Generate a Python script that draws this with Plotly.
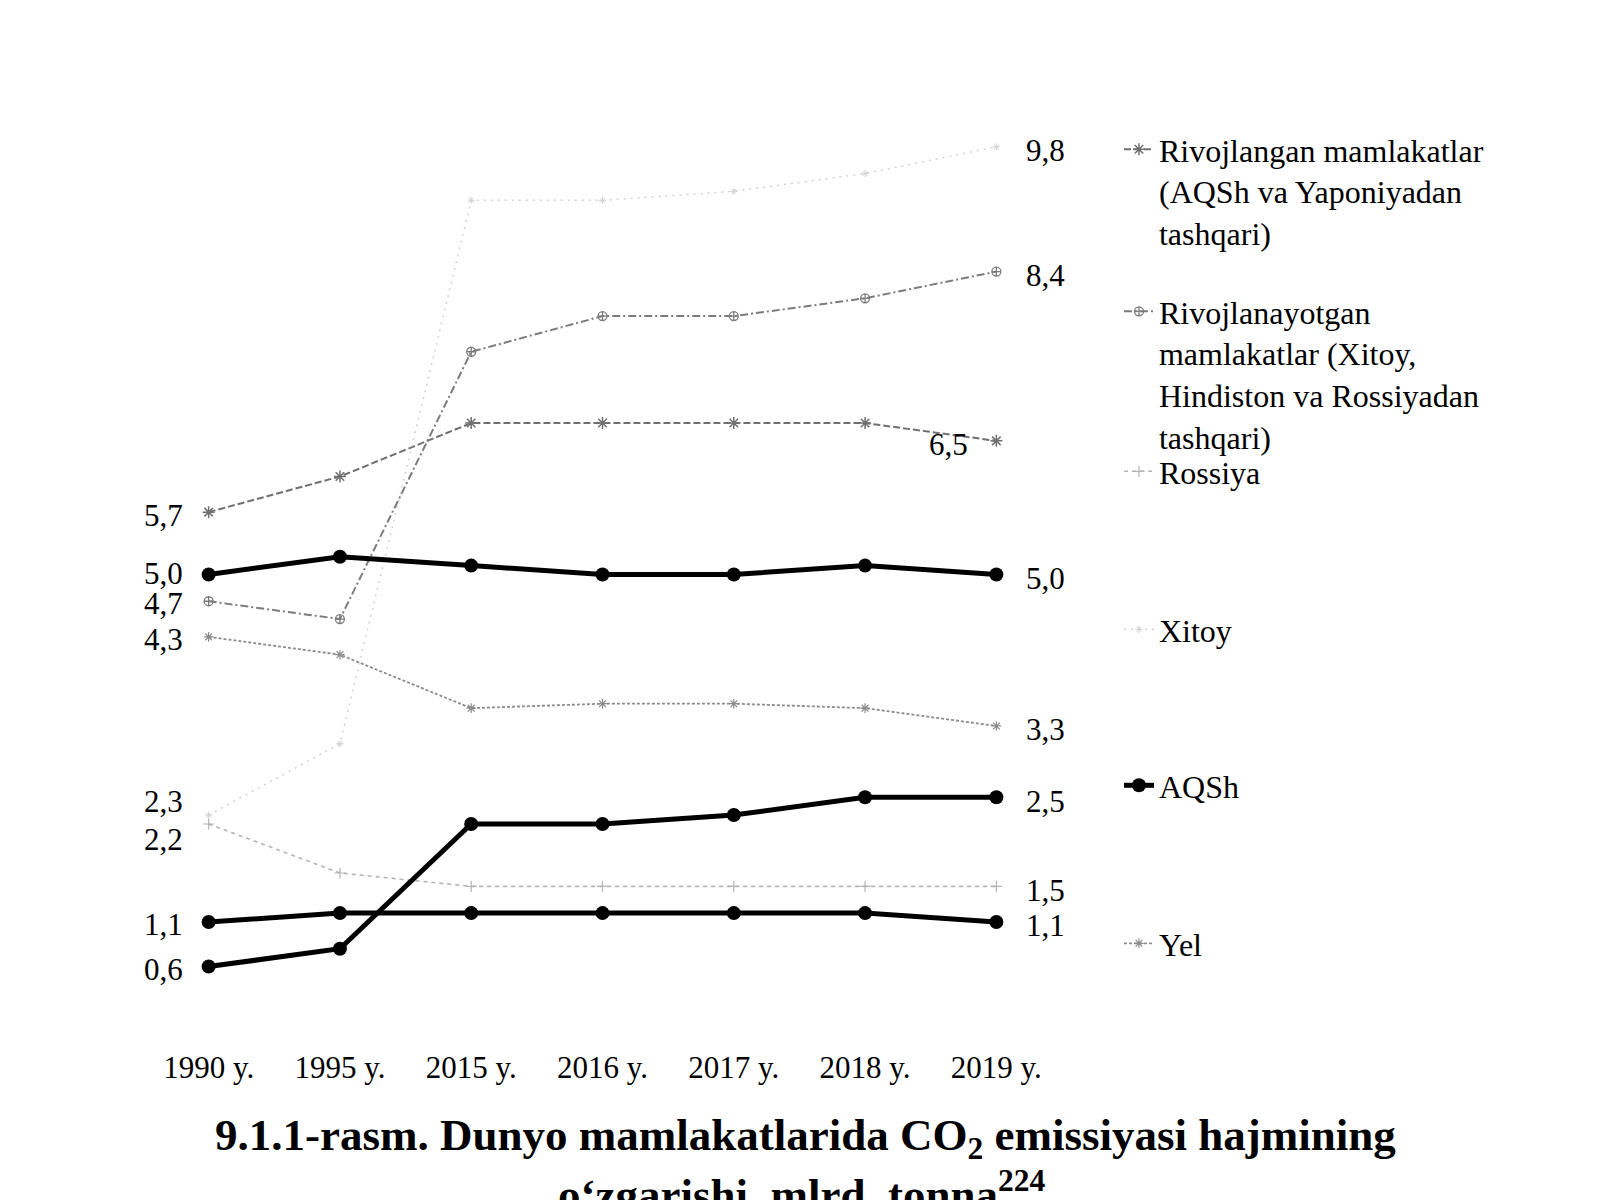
import plotly.graph_objects as go

# ---------------- data ----------------
years = ["1990 y.", "1995 y.", "2015 y.", "2016 y.", "2017 y.", "2018 y.", "2019 y."]

rivojlangan = [5.7, 6.1, 6.7, 6.7, 6.7, 6.7, 6.5]
rivojlanayotgan = [4.7, 4.5, 7.5, 7.9, 7.9, 8.1, 8.4]
rossiya = [2.2, 1.65, 1.5, 1.5, 1.5, 1.5, 1.5]
xitoy = [2.3, 3.1, 9.2, 9.2, 9.3, 9.5, 9.8]
aqsh = [5.0, 5.2, 5.1, 5.0, 5.0, 5.1, 5.0]
hindiston = [0.6, 0.8, 2.2, 2.2, 2.3, 2.5, 2.5]
yaponiya = [1.1, 1.2, 1.2, 1.2, 1.2, 1.2, 1.1]
yei = [4.3, 4.1, 3.5, 3.55, 3.55, 3.5, 3.3]

names = {
    "rivojlangan": "Rivojlangan mamlakatlar<br>(AQSh va Yaponiyadan<br>tashqari)",
    "rivojlanayotgan": "Rivojlanayotgan<br>mamlakatlar (Xitoy,<br>Hindiston va Rossiyadan<br>tashqari)",
    "rossiya": "Rossiya",
    "xitoy": "Xitoy",
    "aqsh": "AQSh",
    "yei": "Yel",
    "hindiston": "Hindiston",
    "yaponiya": "Yaponiya",
}

title_line1 = "<b>9.1.1-rasm. Dunyo mamlakatlarida CO<sub>2</sub> emissiyasi hajmining</b>"
title_line2 = "<b>o‘zgarishi, mlrd. tonna<sup>224</sup></b>"

FONT = "Liberation Serif"

# ---------------- styles ----------------
series = [
    ("rivojlangan", rivojlangan, dict(color="#707070", width=2, dash="7px,3px"),
     dict(symbol="asterisk-open", size=10, line=dict(color="#555", width=1.5)), "legend", 0),
    ("rivojlanayotgan", rivojlanayotgan, dict(color="#7c7c7c", width=2, dash="8px,3px,2px,3px"),
     dict(symbol="circle-cross-open", size=9, line=dict(color="#666", width=1.3)), "legend2", 1),
    ("rossiya", rossiya, dict(color="#b4b4b4", width=1.6, dash="4px,4px"),
     dict(symbol="cross-thin-open", size=8, line=dict(color="#aaa", width=1.2)), "legend3", -13),
    ("xitoy", xitoy, dict(color="#d2d2d2", width=1.5, dash="2px,5px"),
     dict(symbol="asterisk-open", size=6, line=dict(color="#c8c8c8", width=1)), "legend4", 17),
    ("aqsh", aqsh, dict(color="black", width=5),
     dict(symbol="circle", size=14, color="black"), "legend5", 4),
    ("yei", yei, dict(color="#8c8c8c", width=1.8, dash="3px,2px"),
     dict(symbol="asterisk-open", size=8, line=dict(color="#888", width=1.2)), "legend6", 0),
    ("hindiston", hindiston, dict(color="black", width=5),
     dict(symbol="circle", size=14, color="black"), None, 0),
    ("yaponiya", yaponiya, dict(color="black", width=5),
     dict(symbol="circle", size=14, color="black"), None, 0),
]

fig = go.Figure()
annotations = []


def fmt(v):
    return f"{v:.1f}".replace(".", ",")


for key, vals, line, marker, leg, start_yshift in series:
    tr = dict(
        x=years, y=vals, mode="lines+markers", name=names[key],
        line=line, marker=marker, cliponaxis=False,
    )
    if leg is None:
        tr["showlegend"] = False
    else:
        tr["legend"] = leg
    fig.add_trace(go.Scatter(**tr))
    # start label
    annotations.append(dict(
        x=years[0], y=vals[0], xref="x", yref="y", text=fmt(vals[0]),
        xanchor="right", yanchor="middle", xshift=-24, yshift=start_yshift - 3,
        showarrow=False, font=dict(family=FONT, size=31, color="black"),
    ))
    # end label
    if key == "rivojlangan":
        annotations.append(dict(
            x=years[-1], y=vals[-1], xref="x", yref="y", text=fmt(vals[-1]),
            xanchor="right", yanchor="middle", xshift=-26, yshift=-4,
            showarrow=False, font=dict(family=FONT, size=31, color="black"),
        ))
    else:
        annotations.append(dict(
            x=years[-1], y=vals[-1], xref="x", yref="y", text=fmt(vals[-1]),
            xanchor="left", yanchor="middle", xshift=28, yshift=-4,
            showarrow=False, font=dict(family=FONT, size=31, color="black"),
        ))

# caption
annotations.append(dict(
    x=0.721, y=-0.132, xref="paper", yref="paper", text=title_line1,
    xanchor="center", yanchor="middle", showarrow=False,
    font=dict(family=FONT, size=45, color="black"),
))
annotations.append(dict(
    x=0.717, y=-0.193, xref="paper", yref="paper", text=title_line2,
    xanchor="center", yanchor="middle", showarrow=False,
    font=dict(family=FONT, size=45, color="black"),
))

# plot area geometry
L, R, T, B = 143, 538, 129, 180
plot_h = 1200 - T - B


def py(px):
    return 1 - (px - T) / plot_h


leg_x = 1.062
legend_common = dict(
    x=leg_x, xanchor="left", yanchor="top", bgcolor="rgba(0,0,0,0)",
    font=dict(family=FONT, size=32, color="black"), valign="top",
    itemclick=False, itemdoubleclick=False,
)
legend_tops = {"legend": 122, "legend2": 284, "legend3": 444, "legend4": 602, "legend5": 758, "legend6": 916}
layout_legends = {k: dict(legend_common, y=py(v)) for k, v in legend_tops.items()}

fig.update_layout(
    width=1600, height=1200,
    margin=dict(l=L, r=R, t=T, b=B),
    paper_bgcolor="white", plot_bgcolor="white",
    showlegend=True,
    annotations=annotations,
    xaxis=dict(
        type="category", range=[-0.5, 6.5], showgrid=False, zeroline=False,
        showline=False, ticks="", ticklabelstandoff=26,
        tickfont=dict(family=FONT, size=31, color="black"),
    ),
    yaxis=dict(
        range=[0, 10], showgrid=False, zeroline=False, showline=False,
        showticklabels=False, ticks="",
    ),
    **layout_legends,
)

fig.write_html("out.html")
